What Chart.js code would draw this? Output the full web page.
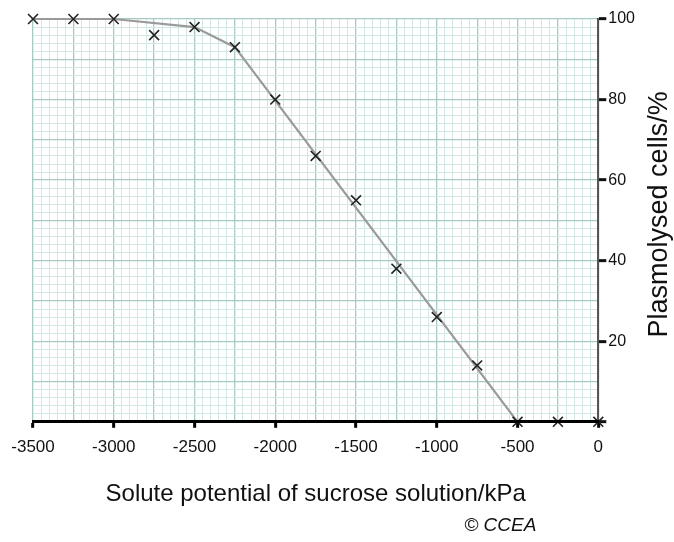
<!DOCTYPE html>
<html>
<head>
<meta charset="utf-8">
<script src="https://cdn.jsdelivr.net/npm/chart.js@4/dist/chart.umd.min.js"></script>
<style>
  html, body { margin: 0; padding: 0; background: #fff; }
  #wrap { width: 674px; height: 542px; position: relative; }
</style>
</head>
<body>
<div id="wrap"><canvas id="c" width="674" height="542"></canvas></div>
<script>
// ---- Data ----
const solutePotential = [-3500, -3250, -3000, -2750, -2500, -2250, -2000, -1750, -1500, -1250, -1000, -750, -500, -250, 0];
const plasmolysedPct  = [100, 100, 100, 96, 98, 93, 80, 66, 55, 38, 26, 14, 0, 0, 0];
// line of best fit (drawn by hand in the original)
const fitX = [-3500, -3000, -2500, -2250, -500, 0];
const fitY = [100, 100, 98, 93, 0, 0];
const xLabelTicks = [-3500, -3000, -2500, -2000, -1500, -1000, -500, 0];
const yLabelTicks = [20, 40, 60, 80, 100];
const xTitle = 'Solute potential of sucrose solution/kPa';
const yTitle = 'Plasmolysed cells/%';
const credit = '\u00A9 CCEA';

const FONT = '"Liberation Sans", Arial, sans-serif';
const MAJOR = '#a7cac5';
const MINOR = '#d3e8e4';

const pts = solutePotential.map((x, i) => ({ x, y: plasmolysedPct[i] }));
const fit = fitX.map((x, i) => ({ x, y: fitY[i] }));

const extraText = {
  id: 'extraText',
  afterDraw(chart) {
    const { ctx, chartArea } = chart;
    ctx.save();
    ctx.fillStyle = '#111';
    // rotated y-axis title (reads bottom-to-top)
    ctx.font = '27px ' + FONT;
    ctx.translate(chartArea.right + 61, (chartArea.top + chartArea.bottom) / 2 - 6);
    ctx.rotate(-Math.PI / 2);
    ctx.textAlign = 'center';
    ctx.textBaseline = 'middle';
    ctx.fillText(yTitle, 0, 0);
    ctx.restore();
    ctx.save();
    ctx.fillStyle = '#111';
    ctx.font = 'italic 19px ' + FONT;
    ctx.textAlign = 'right';
    ctx.textBaseline = 'middle';
    ctx.fillText(credit, chartArea.right - 62, chartArea.bottom + 104);
    ctx.restore();
  }
};

new Chart(document.getElementById('c'), {
  type: 'scatter',
  data: {
    datasets: [
      {
        label: 'points',
        data: pts,
        showLine: false,
        clip: false,
        pointStyle: 'crossRot',
        pointRadius: 7,
        pointHoverRadius: 7,
        pointBorderWidth: 1.6,
        borderColor: '#222',
        backgroundColor: '#222',
        order: 1
      },
      {
        label: 'fit',
        data: fit,
        showLine: true,
        clip: false,
        borderColor: '#9a9a9a',
        borderWidth: 2.2,
        pointRadius: 0,
        pointHoverRadius: 0,
        tension: 0,
        order: 2
      }
    ]
  },
  options: {
    responsive: false,
    animation: false,
    events: [],
    layout: { padding: { left: 33, right: 37, top: 19, bottom: 29 } },
    plugins: {
      legend: { display: false },
      tooltip: { enabled: false }
    },
    scales: {
      x: {
        type: 'linear',
        position: 'bottom',
        min: -3500,
        max: 0,
        afterBuildTicks(scale) {
          const t = [];
          for (let v = -3500; v <= 0; v += 50) t.push({ value: v });
          scale.ticks = t;
        },
        ticks: {
          autoSkip: false,
          maxRotation: 0,
          minRotation: 0,
          padding: 9,
          color: '#111',
          font: { family: FONT, size: 17 },
          callback: (v) => xLabelTicks.includes(v) ? String(v) : ''
        },
        grid: {
          color: (c) => (c.tick && c.tick.value % 250 === 0) ? MAJOR : MINOR,
          lineWidth: (c) => (c.tick && c.tick.value % 250 === 0) ? 1.3 : 1,
          tickLength: 6,
          tickColor: (c) => (c.tick && xLabelTicks.includes(c.tick.value)) ? '#000' : 'rgba(0,0,0,0)',
          tickWidth: (c) => (c.tick && xLabelTicks.includes(c.tick.value)) ? 3 : 0,
        },
        border: { display: true, color: '#000', width: 3, z: 1 },
        title: {
          display: true,
          text: xTitle,
          color: '#111',
          font: { family: FONT, size: 24 },
          padding: { top: 14, bottom: 4 }
        }
      },
      y: {
        type: 'linear',
        position: 'right',
        min: 0,
        max: 100,
        afterBuildTicks(scale) {
          const t = [];
          for (let v = 0; v <= 100; v += 2) t.push({ value: v });
          scale.ticks = t;
        },
        ticks: {
          autoSkip: false,
          padding: 2,
          color: '#111',
          font: { family: FONT, size: 16 },
          callback: (v) => yLabelTicks.includes(v) ? String(v) : ''
        },
        grid: {
          color: (c) => (c.tick && c.tick.value % 10 === 0) ? MAJOR : MINOR,
          lineWidth: (c) => (c.tick && c.tick.value % 10 === 0) ? 1.3 : 1,
          tickLength: 8,
          tickColor: (c) => (c.tick && (yLabelTicks.includes(c.tick.value) || c.tick.value === 0)) ? '#111' : 'rgba(0,0,0,0)',
          tickWidth: (c) => (c.tick && (yLabelTicks.includes(c.tick.value) || c.tick.value === 0)) ? 3 : 0,
        },
        border: { display: true, color: '#555', width: 2 }
      }
    }
  },
  plugins: [extraText]
});
</script>
</body>
</html>
